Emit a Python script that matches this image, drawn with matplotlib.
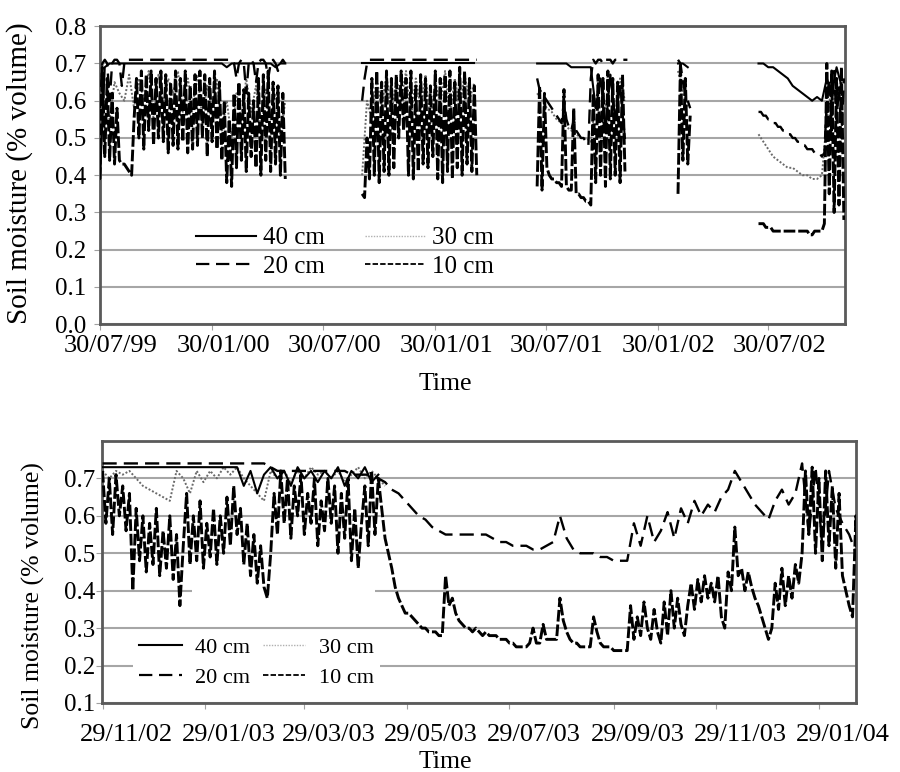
import numpy as np
import matplotlib
matplotlib.use('Agg')
import matplotlib.pyplot as plt
import matplotlib.dates as mdates
from matplotlib.lines import Line2D
from matplotlib.patches import Rectangle
from matplotlib.transforms import ScaledTranslation

plt.rcParams['font.family'] = ['Liberation Serif', 'DejaVu Serif']

depths = ['40 cm', '30 cm', '20 cm', '10 cm']

# ---- top panel: logger records (July 1999 - Dec 2002), values in 1/100 volume
top_starts = ['1999-07-30', '2000-10-02', '2001-07-16', '2002-03-04', '2002-07-14']
top_steps = [8, 8, 4, 4]  # days between readings for 40, 30, 20, 10 cm

top_40cm = [
    [39, 69, 70, 70, 70, 70, 70, 70, 70, 70, 70, 70, 70, 70, 70, 70, 70, 70, 70, 70,
     70, 70, 70, 70, 70, 70, 69, 70, 70, 70, 70, 70, 70, 70, 70, 70, 69, 70, 70],
    [70, 70, 70, 70, 70, 70, 70, 70, 70, 70, 70, 70, 70, 70, 70, 70, 70, 70, 70, 70,
     70, 70, 70, 70],
    [70, 70, 70, 70, 70, 70, 70, 69, 69, 69, 69, 69, 58, 66, 52, 67, 55, 64, 50],
    [70, 70, 69],
    [70, 70, 69, 69, 68, 67, 66, 64, 63, 62, 61, 60, 61, 60, 66, 62, 69, 64],
]
top_30cm = [
    [45, 60, 55, 65, 62, 60, 67, 58, 66, 60, 68, 55, 67, 58, 66, 62, 68, 57, 66, 59,
     67, 55, 64, 58, 66, 52, 60, 50, 62, 55, 66, 57, 64, 52, 63, 55, 62, 50, 60],
    [40, 60, 55, 66, 58, 67, 56, 66, 60, 68, 55, 66, 58, 67, 54, 65, 59, 68, 56, 66,
     58, 67, 60, 65],
    [62, 60, 58, 57, 55, 54, 53, 52, 51, 50, 50, 49, 60, 66, 58, 67, 55, 66, 60],
    [68, 62, 58],
    [51, 49, 47, 45, 44, 43, 42, 42, 41, 40, 40, 39, 39, 40, 55, 64, 58, 66],
]
top_20cm = [
    [58, 70, 71, 70, 60, 70, 71, 71, 70, 64, 70, 71, 71, 71, 71, 71, 71, 71, 71, 71,
     71, 71, 71, 71, 71, 71, 71, 71, 71, 71, 71, 71, 71, 71, 71, 71, 71, 71, 71, 71,
     71, 71, 71, 71, 71, 71, 71, 71, 71, 71, 71, 71, 71, 71, 71, 70, 66, 70, 71, 70,
     62, 70, 71, 70, 65, 70, 71, 71, 70, 66, 70, 71, 70, 68, 70, 71, 70],
    [60, 66, 70, 71, 71, 71, 71, 71, 71, 71, 71, 71, 71, 71, 71, 71, 71, 71, 71, 71,
     71, 71, 71, 71, 71, 71, 71, 71, 71, 71, 71, 71, 71, 71, 71, 71, 71, 71, 71, 71,
     71, 71, 71, 71, 71, 71, 71, 71],
    [66, 63, 62, 61, 60, 59, 58, 57, 56, 55, 54, 60, 55, 53, 52, 55, 52, 51, 50, 50,
     49, 48, 66, 71, 70, 71, 71, 70, 71, 71, 71, 70, 71, 71, 71, 71, 71, 71],
    [71, 70, 65, 62, 60, 58],
    [57, 57, 56, 56, 55, 55, 54, 54, 53, 53, 52, 52, 51, 51, 50, 50, 49, 49, 48, 48,
     47, 47, 47, 46, 46, 46, 45, 46, 60, 66, 52, 68, 55, 64, 50, 66],
]
top_10cm = [
    [39, 69, 45, 66, 44, 62, 43, 58, 44, 43, 43, 42, 41, 40, 55, 66, 50, 68, 47, 67,
     52, 68, 48, 66, 50, 68, 49, 67, 46, 65, 48, 68, 47, 66, 49, 68, 46, 64, 47, 67,
     48, 68, 50, 67, 45, 66, 49, 68, 47, 65, 44, 60, 38, 55, 37, 62, 42, 65, 44, 63,
     41, 62, 45, 60, 42, 66, 40, 67, 44, 68, 41, 65, 43, 64, 40, 62, 39],
    [35, 34, 50, 39, 66, 40, 68, 38, 65, 41, 68, 40, 66, 42, 67, 50, 68, 52, 66, 40,
     68, 39, 64, 41, 67, 43, 66, 42, 64, 45, 68, 39, 66, 38, 67, 41, 68, 39, 65, 42,
     69, 40, 68, 43, 66, 41, 64, 40],
    [37, 64, 36, 62, 42, 40, 39, 39, 38, 38, 37, 63, 37, 36, 36, 58, 35, 35, 34, 34,
     33, 33, 32, 62, 38, 67, 40, 66, 37, 68, 39, 66, 40, 65, 38, 67, 41],
    [35, 70, 44, 66, 43, 56],
    [27, 27, 27, 26, 26, 26, 25, 25, 25, 25, 25, 25, 25, 25, 25, 25, 25, 25, 25, 25,
     25, 24, 24, 25, 25, 25, 25, 27, 70, 35, 68, 30, 66, 32, 69, 28],
]
top_ticks = ['1999-07-30', '2000-01-30', '2000-07-30', '2001-01-30',
             '2001-07-30', '2002-01-30', '2002-07-30']

# ---- bottom panel: Nov 2002 - Feb 2004
bot_start = '2002-11-29'
bot_steps = [4, 4, 4, 2]
bot_40cm = [73, 73, 73, 73, 73, 73, 73, 73, 73, 73, 73, 73, 73, 73, 73, 73, 73, 73, 73, 73,
            73, 68, 72, 66, 71, 73, 70, 72, 68, 73, 70, 72, 69, 72, 70, 73, 68, 72, 70, 73,
            69, 71]
bot_30cm = [72, 70, 72, 71, 72, 70, 68, 67, 66, 65, 64, 72, 70, 66, 72, 69, 72, 70, 73, 71,
            73, 70, 68, 66, 64, 72, 70, 72, 69, 72, 70, 73, 71, 72, 70, 72, 69, 71, 73, 70,
            72, 70, 68]
bot_20cm = [74, 74, 74, 74, 74, 74, 74, 74, 74, 74, 74, 74, 74, 74, 74, 74, 74, 74, 74, 74,
            74, 74, 74, 74, 74, 73, 72, 72, 72, 72, 72, 72, 72, 72, 72, 72, 72, 71, 71, 71,
            71, 70, 69, 67, 66, 64, 62, 60, 59, 57, 56, 55, 55, 55, 55, 55, 55, 55, 54, 53,
            53, 52, 52, 52, 51, 51, 52, 53, 60, 54, 51, 50, 50, 50, 49, 49, 48, 48, 48, 58,
            52, 60, 53, 56, 61, 54, 62, 58, 64, 60, 63, 61, 65, 67, 72, 69, 66, 63, 61, 59,
            64, 67, 63, 66, 74, 55, 73, 52, 72, 62, 58, 55, 50]
bot_10cm = [72, 58, 70, 55, 71, 60, 68, 56, 66,
            40, 62, 48, 60, 45, 58, 47, 62, 44, 56, 46, 60, 43, 55, 36, 52,
            66, 47, 60, 48, 64, 46, 58, 49, 62, 47, 60, 50, 65, 52, 68, 55,
            62, 47, 58, 44, 55, 42, 52, 41, 38, 50,
            66, 55, 72, 58, 70, 54, 68, 60, 71, 55, 66, 58, 70, 52, 64, 56, 70,
            58, 68, 50, 66, 54, 70, 48, 62, 46, 58, 68, 52, 72, 55, 70,
            62, 54, 50, 46, 41, 38, 36, 34, 34, 33, 32, 31, 30, 30, 29, 29, 29, 28, 28,
            44, 36, 38, 34, 32, 31, 30, 30, 29, 30, 29, 28, 29, 28, 28, 28, 27, 27, 27, 26,
            26, 25, 25, 25, 25, 26,
            30, 26, 26, 31, 27, 27, 27, 27, 38, 32, 29, 27, 26, 26, 25, 25, 25, 25, 33, 29,
            26, 25, 25, 25, 24, 24, 24, 24, 24,
            36, 27, 33, 28, 37, 30, 27, 35, 29, 26, 37, 28, 40, 30, 38, 31,
            28, 36, 42, 35, 43, 37, 44, 38, 42, 37, 44, 33,
            30, 45, 40, 57, 44, 46, 40, 45,
            41, 38, 36, 33, 30, 27,
            30, 42, 35, 46, 36, 44, 38,
            47, 42, 50, 72,
            55, 73, 50, 70, 48, 72, 52, 68, 46, 66,
            44, 40, 36, 33, 60, 38]
bot_ticks = ['2002-11-29', '2003-01-29', '2003-03-29', '2003-05-29',
             '2003-07-29', '2003-09-29', '2003-11-29', '2004-01-29']

styles = {
    '40 cm': dict(color='black', lw=1.5, ls='-', zorder=4),
    '30 cm': dict(color='#6a6a6a', lw=1.4, ls=(0, (1, 1)), zorder=2),
    '20 cm': dict(color='black', lw=1.7, ls=(0, (6, 3)), zorder=3),
    '10 cm': dict(color='black', lw=2.1, ls=(0, (4, 1)), zorder=3),
}
legend_styles = {
    '40 cm': dict(color='black', lw=1.5, ls='-'),
    '30 cm': dict(color='#b0b0b0', lw=1.0, ls=(0, (1, 1))),
    '20 cm': dict(color='black', lw=1.6, ls=(0, (6, 3))),
    '10 cm': dict(color='black', lw=1.3, ls=(0, (3, 1.2))),
}


def series_dates(start, n, step):
    return np.datetime64(start) + (np.arange(n) * step).astype('timedelta64[D]')


def style_axes(ax, ticks, ylim, yticks, xpad, ypad, xshift):
    ax.set_ylim(*ylim)
    ax.set_yticks(yticks)
    ax.yaxis.set_major_formatter(plt.FormatStrFormatter('%.1f'))
    ax.set_xticks([np.datetime64(t) for t in ticks])
    ax.xaxis.set_major_formatter(mdates.DateFormatter('%d/%m/%y'))
    ax.grid(axis='y', color='#a6a6a6', lw=1.5)
    ax.set_axisbelow(True)
    for s in ax.spines.values():
        s.set_color('#5a5a5a')
        s.set_linewidth(2)
    ax.tick_params(axis='x', length=4, color='#a0a0a0', pad=xpad, labelsize=19)
    ax.tick_params(axis='y', length=4, color='#a0a0a0', pad=ypad, labelsize=18)
    off = ScaledTranslation(xshift / 100, 0, ax.figure.dpi_scale_trans)
    for lab in ax.get_xticklabels():
        lab.set_transform(lab.get_transform() + off)


fig = plt.figure(figsize=(9, 7.72), dpi=100)

# top panel
ax1 = fig.add_axes([0.111, 0.580, 0.828, 0.386])
top_data = [top_40cm, top_30cm, top_20cm, top_10cm]
for name, segs, step in zip(depths, top_data, top_steps):
    for start, vals in zip(top_starts, segs):
        ax1.plot(series_dates(start, len(vals), step), np.array(vals) / 100, **styles[name])
ax1.set_xlim(np.datetime64('1999-07-30'), np.datetime64('2002-12-03'))
style_axes(ax1, top_ticks, (0, 0.8), np.arange(0, 0.81, 0.1), 4, 6, 11)
ax1.set_ylabel('Soil moisture (% volume)', fontsize=21)
ax1.yaxis.set_label_coords(-0.09, 0.507)
ax1.set_xlabel('Time', fontsize=18.5)
ax1.xaxis.set_label_coords(0.463, -0.165)

order = ['40 cm', '20 cm', '30 cm', '10 cm']
handles = [Line2D([], [], **legend_styles[n]) for n in order]
ax1.legend(handles, order, ncol=2, frameon=False,
           fontsize=18, loc='upper left', bbox_to_anchor=(0.115, 0.36), borderaxespad=0,
           handlelength=2.4, handletextpad=0.3, columnspacing=1.6, labelspacing=0.25)

# bottom panel
ax2 = fig.add_axes([0.113, 0.0894, 0.838, 0.3394])
bot_data = [bot_40cm, bot_30cm, bot_20cm, bot_10cm]
for name, vals, step in zip(depths, bot_data, bot_steps):
    ax2.plot(series_dates(bot_start, len(vals), step), np.array(vals) / 100, **styles[name])
ax2.set_xlim(np.datetime64('2002-11-28T12'), np.datetime64('2004-02-20'))
style_axes(ax2, bot_ticks, (0.1, 0.8), np.arange(0.1, 0.71, 0.1), 11, 1, 24)
x0 = mdates.date2num(np.datetime64('2003-01-21'))
x1 = mdates.date2num(np.datetime64('2003-05-10'))
ax2.add_patch(Rectangle((x0, 0.395), x1 - x0, 0.045,
                        facecolor='white', edgecolor='none', zorder=1))
ax2.set_ylabel('Soil moisture (% volume)', fontsize=18.5)
ax2.yaxis.set_label_coords(-0.075, 0.41)
ax2.set_xlabel('Time', fontsize=18.5)
ax2.xaxis.set_label_coords(0.455, -0.183)
leg = ax2.legend(handles, order, ncol=2, frameon=True,
                 fontsize=16, loc='upper left', bbox_to_anchor=(0.041, 0.275),
                 borderaxespad=0, handlelength=1.9, handletextpad=0.6,
                 columnspacing=0.6, labelspacing=0.42, fancybox=False, borderpad=0.3)
leg.get_frame().set_facecolor('white')
leg.get_frame().set_edgecolor('none')
leg.get_frame().set_alpha(1)

fig.savefig('out.png', dpi=100)
